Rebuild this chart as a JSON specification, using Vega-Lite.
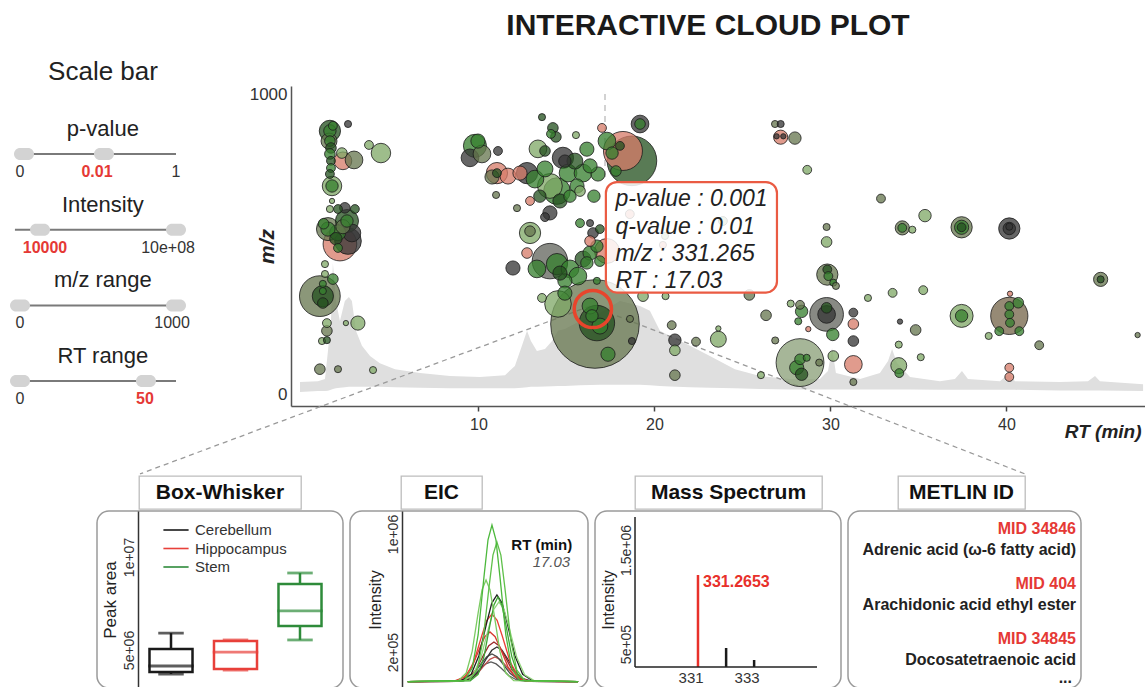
{
"$schema": "https://vega.github.io/schema/vega-lite/v6.json",
"background": "white",
"padding": {"top": 10, "left": 0, "right": 0, "bottom": 0},
"config": {
  "font": "Liberation Sans",
  "view": {"stroke": null},
  "axis": {"grid": false, "ticks": false, "labelColor": "#333", "titleColor": "#222", "domainColor": "#444", "domainWidth": 1.5, "labelFontSize": 14, "titleFontSize": 16, "titleFontWeight": "normal"}
},
"datasets": {
  "sliders": [
    {"row": 0, "name": "p-value", "start": -0.013, "end": 1.0},
    {"row": 1, "name": "Intensity", "start": -0.013, "end": 1.044},
    {"row": 2, "name": "m/z range", "start": -0.025, "end": 1.044},
    {"row": 3, "name": "RT range", "start": -0.025, "end": 1.0}
  ],
  "thumbs": [
    {"row": 0, "pos": 0.044}, {"row": 0, "pos": 0.547},
    {"row": 1, "pos": 0.145}, {"row": 1, "pos": 1.0},
    {"row": 2, "pos": 0.019}, {"row": 2, "pos": 1.0},
    {"row": 3, "pos": 0.019}, {"row": 3, "pos": 0.811}
  ],
  "slabels": [
    {"row": 0, "pos": 0.019, "label": "0", "sel": "no"},
    {"row": 0, "pos": 0.503, "label": "0.01", "sel": "yes"},
    {"row": 0, "pos": 1.0, "label": "1", "sel": "no"},
    {"row": 1, "pos": 0.176, "label": "10000", "sel": "yes"},
    {"row": 1, "pos": 0.95, "label": "10e+08", "sel": "no"},
    {"row": 2, "pos": 0.019, "label": "0", "sel": "no"},
    {"row": 2, "pos": 0.975, "label": "1000", "sel": "no"},
    {"row": 3, "pos": 0.019, "label": "0", "sel": "no"},
    {"row": 3, "pos": 0.805, "label": "50", "sel": "yes"}
  ],
  "tic": [
    {"rt": -0.14, "up": 41, "lo": 8}, {"rt": 0.88, "up": 44, "lo": 11}, {"rt": 1.28, "up": 51, "lo": 11}, {"rt": 1.45, "up": 145, "lo": 12},
    {"rt": 1.62, "up": 245, "lo": 15}, {"rt": 1.73, "up": 439, "lo": 18}, {"rt": 1.9, "up": 312, "lo": 20}, {"rt": 2.13, "up": 245, "lo": 22},
    {"rt": 2.41, "up": 312, "lo": 24}, {"rt": 2.64, "up": 325, "lo": 25}, {"rt": 2.81, "up": 312, "lo": 25}, {"rt": 3.04, "up": 212, "lo": 25},
    {"rt": 3.38, "up": 162, "lo": 25}, {"rt": 3.84, "up": 128, "lo": 25}, {"rt": 4.4, "up": 104, "lo": 25}, {"rt": 5.26, "up": 84, "lo": 24},
    {"rt": 6.68, "up": 71, "lo": 22}, {"rt": 8.38, "up": 61, "lo": 20}, {"rt": 10.09, "up": 58, "lo": 20}, {"rt": 11.51, "up": 64, "lo": 20},
    {"rt": 12.07, "up": 95, "lo": 20}, {"rt": 12.47, "up": 162, "lo": 22}, {"rt": 12.76, "up": 212, "lo": 24}, {"rt": 12.98, "up": 178, "lo": 25},
    {"rt": 13.32, "up": 145, "lo": 25}, {"rt": 13.78, "up": 151, "lo": 26}, {"rt": 14.18, "up": 178, "lo": 27}, {"rt": 14.52, "up": 212, "lo": 28},
    {"rt": 14.91, "up": 218, "lo": 28}, {"rt": 15.77, "up": 245, "lo": 30}, {"rt": 16.9, "up": 272, "lo": 32}, {"rt": 18.04, "up": 312, "lo": 32},
    {"rt": 19.18, "up": 295, "lo": 32}, {"rt": 19.74, "up": 279, "lo": 30}, {"rt": 20.31, "up": 212, "lo": 28}, {"rt": 20.88, "up": 195, "lo": 26},
    {"rt": 22.02, "up": 162, "lo": 24}, {"rt": 23.15, "up": 128, "lo": 22}, {"rt": 24.57, "up": 84, "lo": 20}, {"rt": 26.0, "up": 61, "lo": 18},
    {"rt": 27.7, "up": 51, "lo": 16}, {"rt": 29.4, "up": 51, "lo": 16}, {"rt": 29.86, "up": 78, "lo": 16}, {"rt": 30.09, "up": 155, "lo": 16},
    {"rt": 30.31, "up": 71, "lo": 16}, {"rt": 31.68, "up": 51, "lo": 16}, {"rt": 32.81, "up": 71, "lo": 16}, {"rt": 33.27, "up": 111, "lo": 16},
    {"rt": 33.5, "up": 151, "lo": 16}, {"rt": 33.78, "up": 105, "lo": 16}, {"rt": 34.52, "up": 58, "lo": 16}, {"rt": 36.22, "up": 44, "lo": 15},
    {"rt": 37.07, "up": 51, "lo": 15}, {"rt": 37.47, "up": 78, "lo": 15}, {"rt": 37.81, "up": 51, "lo": 15}, {"rt": 39.63, "up": 44, "lo": 15},
    {"rt": 39.97, "up": 61, "lo": 15}, {"rt": 40.2, "up": 68, "lo": 15}, {"rt": 40.48, "up": 44, "lo": 15}, {"rt": 43.04, "up": 41, "lo": 13},
    {"rt": 44.63, "up": 44, "lo": 13}, {"rt": 45.03, "up": 61, "lo": 13}, {"rt": 45.31, "up": 44, "lo": 13}, {"rt": 47.76, "up": 34, "lo": 11}
  ],
  "persp": [
    {"rt": 16.34, "mz": 295, "rt2": -9.23, "mz2": -266},
    {"rt": 17.87, "mz": 262, "rt2": 41.05, "mz2": -266}
  ],
  "bubbles": [
    {"rt":1.56,"mz":880,"s":144,"c":"dg"},{"rt":1.56,"mz":880,"s":49,"c":"g"},{"rt":1.73,"mz":897,"s":25,"c":"g"},{"rt":2.59,"mz":903,"s":16,"c":"dk"},
    {"rt":1.56,"mz":846,"s":36,"c":"g"},{"rt":1.62,"mz":823,"s":36,"c":"dg"},{"rt":1.56,"mz":803,"s":36,"c":"g"},{"rt":1.62,"mz":780,"s":25,"c":"dg"},
    {"rt":1.62,"mz":756,"s":25,"c":"g"},{"rt":1.56,"mz":736,"s":25,"c":"dg"},{"rt":1.51,"mz":846,"s":81,"c":"ol"},{"rt":2.24,"mz":806,"s":36,"c":"lg"},
    {"rt":2.3,"mz":780,"s":100,"c":"r"},{"rt":2.93,"mz":783,"s":100,"c":"ol"},{"rt":3.78,"mz":833,"s":25,"c":"lg"},{"rt":4.46,"mz":806,"s":121,"c":"lg"},
    {"rt":1.68,"mz":696,"s":121,"c":"lg"},{"rt":1.68,"mz":696,"s":49,"c":"g"},{"rt":1.68,"mz":646,"s":9,"c":"lg"},{"rt":1.56,"mz":619,"s":16,"c":"lg"},
    {"rt":1.45,"mz":552,"s":169,"c":"ol"},{"rt":1.45,"mz":552,"s":64,"c":"g"},{"rt":2.53,"mz":579,"s":169,"c":"dg"},{"rt":2.53,"mz":579,"s":49,"c":"g"},
    {"rt":2.13,"mz":502,"s":361,"c":"r"},{"rt":2.59,"mz":512,"s":225,"c":"dk"},{"rt":2.81,"mz":539,"s":100,"c":"dk"},{"rt":2.02,"mz":489,"s":25,"c":"g"},
    {"rt":2.41,"mz":623,"s":36,"c":"dk"},{"rt":2.02,"mz":619,"s":25,"c":"dg"},{"rt":2.98,"mz":619,"s":25,"c":"dg"},{"rt":1.28,"mz":435,"s":16,"c":"lg"},
    {"rt":1.28,"mz":402,"s":16,"c":"lg"},{"rt":1.73,"mz":385,"s":36,"c":"g"},{"rt":0.99,"mz":328,"s":529,"c":"ol"},{"rt":1.16,"mz":328,"s":144,"c":"dg"},
    {"rt":1.16,"mz":369,"s":16,"c":"g"},{"rt":1.16,"mz":345,"s":16,"c":"g"},{"rt":1.16,"mz":305,"s":36,"c":"dg"},{"rt":1.39,"mz":238,"s":25,"c":"lg"},
    {"rt":1.39,"mz":212,"s":36,"c":"ol"},{"rt":1.11,"mz":178,"s":16,"c":"lg"},{"rt":1.39,"mz":181,"s":16,"c":"dg"},{"rt":2.47,"mz":238,"s":9,"c":"lg"},
    {"rt":3.15,"mz":238,"s":64,"c":"lg"},{"rt":0.99,"mz":84,"s":36,"c":"ol"},{"rt":2.02,"mz":84,"s":16,"c":"ol"},{"rt":4.01,"mz":81,"s":16,"c":"lg"},
    {"rt":2.0,"mz":540,"s":81,"c":"g"},{"rt":2.3,"mz":560,"s":64,"c":"ol"},{"rt":1.9,"mz":520,"s":49,"c":"dg"},{"rt":1.2,"mz":570,"s":36,"c":"g"},
    {"rt":9.8,"mz":830,"s":169,"c":"g"},{"rt":9.52,"mz":790,"s":100,"c":"dk"},{"rt":10.2,"mz":803,"s":100,"c":"ol"},{"rt":9.97,"mz":846,"s":64,"c":"g"},
    {"rt":11.11,"mz":813,"s":25,"c":"dk"},{"rt":11.05,"mz":739,"s":144,"c":"r"},{"rt":11.05,"mz":739,"s":25,"c":"dg"},{"rt":10.77,"mz":726,"s":64,"c":"ol"},
    {"rt":11.68,"mz":729,"s":81,"c":"r"},{"rt":11.0,"mz":666,"s":16,"c":"ol"},{"rt":12.19,"mz":622,"s":16,"c":"ol"},{"rt":13.61,"mz":926,"s":16,"c":"dg"},
    {"rt":14.23,"mz":890,"s":36,"c":"dg"},{"rt":14.4,"mz":860,"s":36,"c":"dg"},{"rt":14.12,"mz":870,"s":25,"c":"g"},{"rt":15.54,"mz":866,"s":16,"c":"lg"},
    {"rt":13.38,"mz":820,"s":100,"c":"lg"},{"rt":14.8,"mz":790,"s":144,"c":"dk"},{"rt":14.91,"mz":779,"s":49,"c":"dk"},{"rt":12.76,"mz":739,"s":144,"c":"dk"},
    {"rt":12.36,"mz":739,"s":64,"c":"r"},{"rt":13.21,"mz":719,"s":100,"c":"g"},{"rt":13.78,"mz":753,"s":81,"c":"g"},{"rt":14.46,"mz":679,"s":225,"c":"g"},
    {"rt":14.06,"mz":696,"s":196,"c":"lg"},{"rt":15.09,"mz":739,"s":100,"c":"g"},{"rt":15.94,"mz":739,"s":100,"c":"g"},{"rt":15.6,"mz":696,"s":64,"c":"g"},
    {"rt":16.16,"mz":819,"s":64,"c":"g"},{"rt":16.79,"mz":736,"s":64,"c":"g"},{"rt":16.34,"mz":763,"s":64,"c":"g"},{"rt":14.06,"mz":606,"s":64,"c":"dk"},
    {"rt":13.78,"mz":592,"s":25,"c":"dk"},{"rt":14.63,"mz":646,"s":64,"c":"dg"},{"rt":13.49,"mz":662,"s":49,"c":"dg"},{"rt":15.2,"mz":662,"s":49,"c":"g"},
    {"rt":15.48,"mz":779,"s":81,"c":"dg"},{"rt":15.77,"mz":679,"s":36,"c":"lg"},{"rt":16.56,"mz":662,"s":49,"c":"g"},{"rt":13.78,"mz":813,"s":36,"c":"dg"},
    {"rt":12.93,"mz":646,"s":25,"c":"r"},{"rt":18.21,"mz":813,"s":484,"c":"r"},{"rt":18.72,"mz":780,"s":784,"c":"dg"},{"rt":19.18,"mz":903,"s":100,"c":"dk"},
    {"rt":19.18,"mz":903,"s":36,"c":"g"},{"rt":17.02,"mz":890,"s":25,"c":"r"},{"rt":17.3,"mz":846,"s":100,"c":"g"},{"rt":17.59,"mz":806,"s":49,"c":"g"},
    {"rt":17.81,"mz":746,"s":36,"c":"g"},{"rt":18.04,"mz":830,"s":25,"c":"dg"},{"rt":12.93,"mz":539,"s":144,"c":"lg"},{"rt":12.93,"mz":545,"s":36,"c":"ol"},
    {"rt":11.96,"mz":422,"s":64,"c":"dk"},{"rt":14.06,"mz":445,"s":400,"c":"gy"},{"rt":13.32,"mz":419,"s":100,"c":"g"},{"rt":14.46,"mz":435,"s":144,"c":"g"},
    {"rt":15.2,"mz":419,"s":100,"c":"g"},{"rt":15.65,"mz":395,"s":100,"c":"g"},{"rt":16.34,"mz":472,"s":64,"c":"g"},{"rt":16.51,"mz":539,"s":36,"c":"dk"},
    {"rt":16.34,"mz":512,"s":36,"c":"r"},{"rt":16.73,"mz":495,"s":49,"c":"g"},{"rt":16.16,"mz":439,"s":49,"c":"g"},{"rt":16.34,"mz":572,"s":16,"c":"dk"},
    {"rt":16.73,"mz":379,"s":16,"c":"g"},{"rt":12.76,"mz":472,"s":36,"c":"r"},{"rt":14.91,"mz":379,"s":64,"c":"g"},{"rt":16.9,"mz":445,"s":36,"c":"g"},
    {"rt":16.9,"mz":552,"s":25,"c":"dg"},{"rt":15.94,"mz":452,"s":81,"c":"dg"},{"rt":15.77,"mz":572,"s":25,"c":"g"},{"rt":14.63,"mz":405,"s":64,"c":"dg"},
    {"rt":16.62,"mz":235,"s":2500,"c":"ol"},{"rt":14.52,"mz":302,"s":225,"c":"lg"},{"rt":16.73,"mz":238,"s":400,"c":"dg"},{"rt":16.34,"mz":295,"s":81,"c":"g"},
    {"rt":16.45,"mz":262,"s":49,"c":"g"},{"rt":16.9,"mz":228,"s":81,"c":"g"},{"rt":17.36,"mz":134,"s":64,"c":"g"},{"rt":18.72,"mz":178,"s":16,"c":"dk"},
    {"rt":18.61,"mz":252,"s":16,"c":"ol"},{"rt":13.61,"mz":322,"s":25,"c":"lg"},{"rt":19.35,"mz":328,"s":36,"c":"lg"},{"rt":14.91,"mz":338,"s":64,"c":"g"},
    {"rt":23.89,"mz":579,"s":25,"c":"lg"},{"rt":20.6,"mz":529,"s":16,"c":"lg"},{"rt":20.48,"mz":499,"s":16,"c":"r"},{"rt":17.3,"mz":479,"s":196,"c":"r"},
    {"rt":18.6,"mz":602,"s":25,"c":"r"},
    {"rt":26.85,"mz":903,"s":16,"c":"ol"},{"rt":27.17,"mz":903,"s":16,"c":"dk"},{"rt":27.17,"mz":859,"s":64,"c":"r"},{"rt":26.94,"mz":862,"s":9,"c":"dk"},
    {"rt":27.32,"mz":862,"s":9,"c":"dk"},{"rt":27.98,"mz":856,"s":49,"c":"ol"},{"rt":28.68,"mz":750,"s":25,"c":"lg"},{"rt":32.87,"mz":654,"s":25,"c":"ol"},
    {"rt":35.37,"mz":597,"s":49,"c":"lg"},{"rt":34.08,"mz":556,"s":64,"c":"ol"},{"rt":34.08,"mz":556,"s":25,"c":"g"},{"rt":34.65,"mz":550,"s":16,"c":"lg"},
    {"rt":37.45,"mz":558,"s":144,"c":"ol"},{"rt":37.45,"mz":558,"s":64,"c":"g"},{"rt":37.45,"mz":558,"s":25,"c":"dg"},{"rt":40.16,"mz":554,"s":144,"c":"dk"},
    {"rt":40.16,"mz":554,"s":49,"c":"dk"},{"rt":40.16,"mz":560,"s":16,"c":"dk"},{"rt":29.78,"mz":559,"s":16,"c":"ol"},{"rt":29.78,"mz":509,"s":36,"c":"lg"},
    {"rt":29.82,"mz":400,"s":144,"c":"ol"},{"rt":29.82,"mz":417,"s":25,"c":"dg"},{"rt":29.88,"mz":395,"s":25,"c":"g"},{"rt":30.16,"mz":373,"s":16,"c":"g"},
    {"rt":30.31,"mz":362,"s":16,"c":"ol"},{"rt":45.35,"mz":384,"s":64,"c":"ol"},{"rt":45.35,"mz":384,"s":16,"c":"dg"},{"rt":25.39,"mz":332,"s":36,"c":"ol"},
    {"rt":20.63,"mz":328,"s":16,"c":"lg"},{"rt":32.13,"mz":322,"s":16,"c":"lg"},{"rt":33.53,"mz":339,"s":25,"c":"lg"},{"rt":35.27,"mz":348,"s":25,"c":"lg"},
    {"rt":26.34,"mz":264,"s":36,"c":"ol"},{"rt":27.74,"mz":303,"s":16,"c":"lg"},{"rt":28.27,"mz":299,"s":25,"c":"ol"},{"rt":28.36,"mz":277,"s":49,"c":"g"},
    {"rt":28.17,"mz":244,"s":16,"c":"g"},{"rt":29.78,"mz":267,"s":361,"c":"gy"},{"rt":29.78,"mz":267,"s":100,"c":"dk"},{"rt":29.78,"mz":289,"s":36,"c":"dg"},
    {"rt":30.13,"mz":200,"s":49,"c":"g"},{"rt":28.74,"mz":218,"s":9,"c":"r"},{"rt":31.3,"mz":273,"s":25,"c":"dk"},{"rt":31.3,"mz":235,"s":36,"c":"r"},
    {"rt":31.3,"mz":178,"s":36,"c":"dk"},{"rt":31.3,"mz":100,"s":100,"c":"r"},{"rt":31.3,"mz":41,"s":16,"c":"ol"},{"rt":30.16,"mz":128,"s":36,"c":"lg"},
    {"rt":28.27,"mz":106,"s":729,"c":"lo"},{"rt":28.27,"mz":117,"s":36,"c":"g"},{"rt":28.08,"mz":89,"s":64,"c":"g"},{"rt":28.36,"mz":67,"s":49,"c":"dg"},
    {"rt":28.65,"mz":122,"s":16,"c":"g"},{"rt":29.36,"mz":106,"s":16,"c":"ol"},{"rt":26.86,"mz":180,"s":16,"c":"ol"},{"rt":26.05,"mz":64,"s":16,"c":"lg"},
    {"rt":23.63,"mz":184,"s":81,"c":"lg"},{"rt":23.63,"mz":220,"s":9,"c":"lg"},{"rt":22.36,"mz":176,"s":25,"c":"ol"},{"rt":20.98,"mz":231,"s":25,"c":"ol"},
    {"rt":21.16,"mz":181,"s":49,"c":"dk"},{"rt":21.16,"mz":147,"s":36,"c":"lg"},{"rt":21.16,"mz":64,"s":36,"c":"ol"},{"rt":33.95,"mz":243,"s":9,"c":"dk"},
    {"rt":34.84,"mz":215,"s":36,"c":"ol"},{"rt":33.88,"mz":166,"s":16,"c":"lg"},{"rt":35.13,"mz":124,"s":16,"c":"lg"},{"rt":33.88,"mz":96,"s":81,"c":"lg"},
    {"rt":33.91,"mz":71,"s":25,"c":"g"},{"rt":37.45,"mz":262,"s":169,"c":"lg"},{"rt":37.45,"mz":262,"s":49,"c":"g"},{"rt":40.16,"mz":262,"s":441,"c":"br"},
    {"rt":40.16,"mz":295,"s":25,"c":"g"},{"rt":40.16,"mz":267,"s":25,"c":"g"},{"rt":40.2,"mz":239,"s":25,"c":"g"},{"rt":40.67,"mz":306,"s":36,"c":"g"},
    {"rt":39.59,"mz":211,"s":25,"c":"g"},{"rt":40.73,"mz":211,"s":25,"c":"g"},{"rt":40.2,"mz":336,"s":9,"c":"r"},{"rt":38.99,"mz":195,"s":16,"c":"lg"},
    {"rt":41.86,"mz":164,"s":25,"c":"ol"},{"rt":40.16,"mz":89,"s":25,"c":"r"},{"rt":40.16,"mz":58,"s":25,"c":"r"},{"rt":47.45,"mz":198,"s":9,"c":"ol"}
  ],
  "sel": [{"rt": 16.5, "mz": 285}],
  "vline": [{"rt": 17.19, "mz": 1003, "mz2": 709}],
  "tipbox": [{"rt": 17.24, "rt2": 26.96, "mz": 709, "mz2": 340}],
  "tip": [
    {"rt": 17.78, "mz": 652, "line": "p-value : 0.001"},
    {"rt": 17.78, "mz": 558, "line": "q-value : 0.01"},
    {"rt": 17.78, "mz": 468, "line": "m/z : 331.265"},
    {"rt": 17.78, "mz": 378, "line": "RT : 17.03"}
  ],
  "box": [
    {"group": "Cerebellum", "lo": 3710000, "q1": 3820000, "med": 4140000, "q3": 5050000, "hi": 5910000},
    {"group": "Hippocampus", "lo": 3920000, "q1": 3980000, "med": 4890000, "q3": 5480000, "hi": 5540000},
    {"group": "Stem", "lo": 5540000, "q1": 6290000, "med": 7100000, "q3": 8550000, "hi": 9140000}
  ],
  "eic": [
    {"c":"K4","t":16.59,"i":0},{"c":"K4","t":16.828,"i":1000},{"c":"K4","t":16.88,"i":11000},{"c":"K4","t":16.919,"i":40000},{"c":"K4","t":16.958,"i":90000},{"c":"K4","t":16.984,"i":120000},{"c":"K4","t":17.01,"i":133000},{"c":"K4","t":17.036,"i":120000},{"c":"K4","t":17.062,"i":90000},{"c":"K4","t":17.101,"i":40000},{"c":"K4","t":17.14,"i":11000},{"c":"K4","t":17.192,"i":1000},{"c":"K4","t":17.45,"i":0},
    {"c":"R4","t":16.59,"i":0},{"c":"R4","t":16.848,"i":1000},{"c":"R4","t":16.9,"i":14000},{"c":"R4","t":16.939,"i":50000},{"c":"R4","t":16.978,"i":113000},{"c":"R4","t":17.004,"i":151000},{"c":"R4","t":17.03,"i":167000},{"c":"R4","t":17.056,"i":151000},{"c":"R4","t":17.082,"i":113000},{"c":"R4","t":17.121,"i":50000},{"c":"R4","t":17.16,"i":14000},{"c":"R4","t":17.212,"i":1000},{"c":"R4","t":17.45,"i":0},
    {"c":"K3","t":16.59,"i":0},{"c":"K3","t":16.833,"i":1000},{"c":"K3","t":16.885,"i":16000},{"c":"K3","t":16.924,"i":56000},{"c":"K3","t":16.963,"i":126000},{"c":"K3","t":16.989,"i":169000},{"c":"K3","t":17.015,"i":187000},{"c":"K3","t":17.041,"i":169000},{"c":"K3","t":17.067,"i":126000},{"c":"K3","t":17.106,"i":56000},{"c":"K3","t":17.145,"i":16000},{"c":"K3","t":17.197,"i":1000},{"c":"K3","t":17.45,"i":0},
    {"c":"K2","t":16.59,"i":0},{"c":"K2","t":16.858,"i":2000},{"c":"K2","t":16.91,"i":20000},{"c":"K2","t":16.949,"i":70000},{"c":"K2","t":16.988,"i":158000},{"c":"K2","t":17.014,"i":212000},{"c":"K2","t":17.04,"i":234000},{"c":"K2","t":17.066,"i":212000},{"c":"K2","t":17.092,"i":158000},{"c":"K2","t":17.131,"i":70000},{"c":"K2","t":17.17,"i":20000},{"c":"K2","t":17.222,"i":2000},{"c":"K2","t":17.45,"i":0},
    {"c":"R3","t":16.59,"i":0},{"c":"R3","t":16.843,"i":2000},{"c":"R3","t":16.895,"i":23000},{"c":"R3","t":16.934,"i":80000},{"c":"R3","t":16.973,"i":181000},{"c":"R3","t":16.999,"i":243000},{"c":"R3","t":17.025,"i":268000},{"c":"R3","t":17.051,"i":243000},{"c":"R3","t":17.077,"i":181000},{"c":"R3","t":17.116,"i":80000},{"c":"R3","t":17.155,"i":23000},{"c":"R3","t":17.207,"i":2000},{"c":"R3","t":17.45,"i":0},
    {"c":"R2","t":16.59,"i":0},{"c":"R2","t":16.823,"i":3000},{"c":"R2","t":16.875,"i":29000},{"c":"R2","t":16.914,"i":100000},{"c":"R2","t":16.953,"i":226000},{"c":"R2","t":16.979,"i":304000},{"c":"R2","t":17.005,"i":336000},{"c":"R2","t":17.031,"i":304000},{"c":"R2","t":17.057,"i":226000},{"c":"R2","t":17.096,"i":100000},{"c":"R2","t":17.135,"i":29000},{"c":"R2","t":17.187,"i":3000},{"c":"R2","t":17.45,"i":0},
    {"c":"R1","t":16.59,"i":0},{"c":"R1","t":16.833,"i":4000},{"c":"R1","t":16.885,"i":39000},{"c":"R1","t":16.924,"i":136000},{"c":"R1","t":16.963,"i":309000},{"c":"R1","t":16.989,"i":415000},{"c":"R1","t":17.015,"i":458000},{"c":"R1","t":17.041,"i":415000},{"c":"R1","t":17.067,"i":309000},{"c":"R1","t":17.106,"i":136000},{"c":"R1","t":17.145,"i":39000},{"c":"R1","t":17.197,"i":4000},{"c":"R1","t":17.45,"i":0},
    {"c":"K1","t":16.59,"i":0},{"c":"K1","t":16.858,"i":5000},{"c":"K1","t":16.91,"i":50000},{"c":"K1","t":16.949,"i":175000},{"c":"K1","t":16.988,"i":396000},{"c":"K1","t":17.014,"i":532000},{"c":"K1","t":17.04,"i":587000},{"c":"K1","t":17.066,"i":532000},{"c":"K1","t":17.092,"i":396000},{"c":"K1","t":17.131,"i":175000},{"c":"K1","t":17.17,"i":50000},{"c":"K1","t":17.222,"i":5000},{"c":"K1","t":17.45,"i":0},
    {"c":"G5","t":16.59,"i":0},{"c":"G5","t":16.868,"i":4000},{"c":"G5","t":16.92,"i":46000},{"c":"G5","t":16.959,"i":161000},{"c":"G5","t":16.998,"i":364000},{"c":"G5","t":17.024,"i":489000},{"c":"G5","t":17.05,"i":540000},{"c":"G5","t":17.076,"i":489000},{"c":"G5","t":17.102,"i":364000},{"c":"G5","t":17.141,"i":161000},{"c":"G5","t":17.18,"i":46000},{"c":"G5","t":17.232,"i":4000},{"c":"G5","t":17.45,"i":0},
    {"c":"G4","t":16.59,"i":0},{"c":"G4","t":16.905,"i":5000},{"c":"G4","t":16.945,"i":49000},{"c":"G4","t":16.975,"i":171000},{"c":"G4","t":17.005,"i":386000},{"c":"G4","t":17.025,"i":519000},{"c":"G4","t":17.045,"i":573000},{"c":"G4","t":17.065,"i":519000},{"c":"G4","t":17.085,"i":386000},{"c":"G4","t":17.115,"i":171000},{"c":"G4","t":17.145,"i":49000},{"c":"G4","t":17.185,"i":5000},{"c":"G4","t":17.45,"i":0},
    {"c":"G3","t":16.59,"i":0},{"c":"G3","t":16.845,"i":6000},{"c":"G3","t":16.885,"i":58000},{"c":"G3","t":16.915,"i":205000},{"c":"G3","t":16.945,"i":464000},{"c":"G3","t":16.965,"i":623000},{"c":"G3","t":16.985,"i":688000},{"c":"G3","t":17.005,"i":623000},{"c":"G3","t":17.025,"i":464000},{"c":"G3","t":17.055,"i":205000},{"c":"G3","t":17.085,"i":58000},{"c":"G3","t":17.125,"i":6000},{"c":"G3","t":17.45,"i":0},
    {"c":"G2","t":16.59,"i":0},{"c":"G2","t":16.9,"i":8000},{"c":"G2","t":16.94,"i":80000},{"c":"G2","t":16.97,"i":282000},{"c":"G2","t":17.0,"i":638000},{"c":"G2","t":17.02,"i":857000},{"c":"G2","t":17.04,"i":946000},{"c":"G2","t":17.06,"i":857000},{"c":"G2","t":17.08,"i":638000},{"c":"G2","t":17.11,"i":282000},{"c":"G2","t":17.14,"i":80000},{"c":"G2","t":17.18,"i":8000},{"c":"G2","t":17.45,"i":0},
    {"c":"G1","t":16.59,"i":0},{"c":"G1","t":16.875,"i":8000},{"c":"G1","t":16.915,"i":90000},{"c":"G1","t":16.945,"i":316000},{"c":"G1","t":16.975,"i":715000},{"c":"G1","t":16.995,"i":961000},{"c":"G1","t":17.015,"i":1061000},{"c":"G1","t":17.035,"i":961000},{"c":"G1","t":17.055,"i":715000},{"c":"G1","t":17.085,"i":316000},{"c":"G1","t":17.115,"i":90000},{"c":"G1","t":17.155,"i":8000},{"c":"G1","t":17.45,"i":0}
  ],
  "eicnote": [
    {"t": 17.42, "i": 925500, "a": "RT (min)", "kind": "head"},
    {"t": 17.41, "i": 810300, "a": "17.03", "kind": "val"}
  ],
  "ms": [
    {"mz": 331.2653, "int": 1234000, "base": 255350, "kind": "main", "label": "331.2653"},
    {"mz": 332.27, "int": 457500, "base": 255350, "kind": "iso", "label": ""},
    {"mz": 333.27, "int": 330000, "base": 255350, "kind": "iso", "label": ""}
  ],
  "msaxis": [
    {"mz": 329.016, "mz2": 329.016, "int": 255350, "int2": 1851000},
    {"mz": 329.016, "mz2": 335.516, "int": 255350, "int2": 255350}
  ],
  "metlin": [
    {"rank": 1, "mid": "MID 34846", "name": "Adrenic acid (ω-6 fatty acid)"},
    {"rank": 2, "mid": "MID 404", "name": "Arachidonic acid ethyl ester"},
    {"rank": 3, "mid": "MID 34845", "name": "Docosatetraenoic acid"}
  ]
},
"resolve": {"scale": {"color": "independent", "fill": "independent", "stroke": "independent", "size": "independent"}},
"spacing": 0,
"vconcat": [
  {
    "hconcat": [
      {
        "width": 240, "height": 320,
        "title": {"text": "Scale bar", "fontSize": 26, "fontWeight": "normal", "color": "#222", "anchor": "middle", "frame": "group", "dx": -17, "offset": -20, "baseline": "alphabetic"},
        "layer": [
          {
            "data": {"name": "sliders"},
            "mark": {"type": "rule", "color": "#7a7a7a", "strokeWidth": 2, "yOffset": 25},
            "encoding": {
              "x": {"field": "start", "type": "quantitative", "scale": {"domain": [-0.1069, 1.4025], "nice": false, "zero": false}, "axis": null},
              "x2": {"field": "end"},
              "y": {"field": "row", "type": "quantitative", "scale": {"domain": [-0.568, 3.659], "reverse": true, "nice": false, "zero": false}, "axis": null}
            }
          },
          {
            "data": {"name": "sliders"},
            "mark": {"type": "text", "fontSize": 22, "color": "#222", "baseline": "middle"},
            "encoding": {
              "x": {"datum": 0.54, "type": "quantitative", "axis": null},
              "y": {"field": "row", "type": "quantitative", "axis": null},
              "text": {"field": "name"}
            }
          },
          {
            "data": {"name": "thumbs"},
            "mark": {"type": "point", "shape": "M-0.4,-0.6L0.4,-0.6A0.6,0.6,0,0,1,0.4,0.6L-0.4,0.6A0.6,0.6,0,0,1,-0.4,-0.6Z", "size": 400, "filled": true, "color": "#d3d3d3", "opacity": 1, "yOffset": 25},
            "encoding": {
              "x": {"field": "pos", "type": "quantitative", "axis": null},
              "y": {"field": "row", "type": "quantitative", "axis": null}
            }
          },
          {
            "data": {"name": "slabels"},
            "transform": [{"filter": "datum.sel == 'no'"}],
            "mark": {"type": "text", "fontSize": 16, "color": "#333", "dy": 43, "baseline": "middle"},
            "encoding": {
              "x": {"field": "pos", "type": "quantitative", "axis": null},
              "y": {"field": "row", "type": "quantitative", "axis": null},
              "text": {"field": "label"}
            }
          },
          {
            "data": {"name": "slabels"},
            "transform": [{"filter": "datum.sel == 'yes'"}],
            "mark": {"type": "text", "fontSize": 16, "fontWeight": "bold", "color": "#e53935", "dy": 43, "baseline": "middle"},
            "encoding": {
              "x": {"field": "pos", "type": "quantitative", "axis": null},
              "y": {"field": "row", "type": "quantitative", "axis": null},
              "text": {"field": "label"}
            }
          }
        ]
      },
      {
        "width": 854, "height": 320,
        "title": {"text": "INTERACTIVE CLOUD PLOT", "fontSize": 30, "fontWeight": "bold", "color": "#1a1a1a", "anchor": "middle", "frame": "group", "dx": -10, "offset": 21, "baseline": "alphabetic"},
        "layer": [
          {
            "data": {"name": "tic"},
            "mark": {"type": "area", "color": "#dfdfdf", "opacity": 1},
            "encoding": {
              "x": {"field": "rt", "type": "quantitative", "scale": {"domain": [-0.65, 47.87], "nice": false, "zero": false},
                    "axis": {"values": [10, 20, 30, 40], "ticks": true, "tickSize": 5, "tickColor": "#444", "tickWidth": 1.5, "labelFontSize": 16, "labelPadding": 5, "labelFlush": false, "domainColor": "#555", "domainWidth": 1.5,
                             "title": "RT (min)", "titleFontSize": 19, "titleFontWeight": "bold", "titleFontStyle": "italic", "titleAlign": "right", "titleX": 850, "titleY": 31, "titleBaseline": "alphabetic"}},
              "y": {"field": "up", "type": "quantitative", "scale": {"domain": [-39, 1030], "nice": false, "zero": false},
                    "axis": {"values": [0, 1000], "format": "d", "labelFontSize": 17, "labelPadding": 4, "domainColor": "#555", "domainWidth": 1.5,
                             "title": "m/z", "titleFontSize": 21, "titleFontWeight": "bold", "titleFontStyle": "italic", "titleX": -24, "titleY": 160, "titleAngle": 270, "titleAlign": "center", "titleBaseline": "middle"}},
              "y2": {"field": "lo"}
            }
          },
          {
            "data": {"name": "persp"},
            "mark": {"type": "rule", "color": "#9a9a9a", "strokeWidth": 1.3, "strokeDash": [5, 4]},
            "encoding": {
              "x": {"field": "rt", "type": "quantitative"},
              "x2": {"field": "rt2"},
              "y": {"field": "mz", "type": "quantitative"},
              "y2": {"field": "mz2"}
            }
          },
          {
            "data": {"name": "vline"},
            "mark": {"type": "rule", "color": "#c4c4c4", "strokeWidth": 1.5, "strokeDash": [6, 5]},
            "encoding": {
              "x": {"field": "rt", "type": "quantitative"},
              "y": {"field": "mz", "type": "quantitative"},
              "y2": {"field": "mz2"}
            }
          },
          {
            "data": {"name": "bubbles"},
            "mark": {"type": "point", "shape": "circle", "filled": true, "fillOpacity": 0.76, "stroke": "#1c1c1c", "strokeWidth": 1, "strokeOpacity": 0.8},
            "encoding": {
              "x": {"field": "rt", "type": "quantitative"},
              "y": {"field": "mz", "type": "quantitative"},
              "size": {"field": "s", "type": "quantitative", "scale": {"type": "linear", "domain": [0, 2500], "range": [0, 7854], "zero": true}, "legend": null},
              "fill": {"field": "c", "type": "nominal", "scale": {"domain": ["g", "dg", "ol", "lg", "dk", "gy", "r", "lo", "br"], "range": ["#367f2e", "#25521f", "#66764f", "#7fa866", "#363636", "#62655d", "#d67c69", "#8a9f78", "#75654a"]}, "legend": null},
              "order": {"field": "s", "type": "quantitative", "sort": "descending"}
            }
          },
          {
            "data": {"name": "sel"},
            "mark": {"type": "point", "shape": "circle", "filled": false, "size": 1385, "stroke": "#e8452c", "strokeWidth": 3.5, "opacity": 1},
            "encoding": {
              "x": {"field": "rt", "type": "quantitative"},
              "y": {"field": "mz", "type": "quantitative"}
            }
          },
          {
            "data": {"name": "tipbox"},
            "mark": {"type": "rect", "fill": "white", "fillOpacity": 0.85, "stroke": "#ea5b43", "strokeWidth": 2.2, "cornerRadius": 11},
            "encoding": {
              "x": {"field": "rt", "type": "quantitative"},
              "x2": {"field": "rt2"},
              "y": {"field": "mz", "type": "quantitative"},
              "y2": {"field": "mz2"}
            }
          },
          {
            "data": {"name": "tip"},
            "mark": {"type": "text", "fontSize": 23, "fontStyle": "italic", "color": "#222", "align": "left", "baseline": "middle"},
            "encoding": {
              "x": {"field": "rt", "type": "quantitative"},
              "y": {"field": "mz", "type": "quantitative"},
              "text": {"field": "line"}
            }
          }
        ]
      }
    ],
    "spacing": 51,
    "bounds": "flush",
    "resolve": {"scale": {"color": "independent", "fill": "independent", "stroke": "independent", "size": "independent"}}
  },
  {
    "hconcat": [
      {"width": 139, "height": 33, "data": {"values": []}, "mark": "rule", "encoding": {}},
      {"width": 162, "height": 33, "view": {"stroke": "#bdbdbd", "strokeWidth": 1.3}, "data": {"values": [{"t": "Box-Whisker"}]}, "mark": {"type": "text", "fontSize": 21, "fontWeight": "bold", "color": "#111"}, "encoding": {"text": {"field": "t"}}},
      {"width": 100, "height": 33, "data": {"values": []}, "mark": "rule", "encoding": {}},
      {"width": 81, "height": 33, "view": {"stroke": "#bdbdbd", "strokeWidth": 1.3}, "data": {"values": [{"t": "EIC"}]}, "mark": {"type": "text", "fontSize": 21, "fontWeight": "bold", "color": "#111"}, "encoding": {"text": {"field": "t"}}},
      {"width": 153, "height": 33, "data": {"values": []}, "mark": "rule", "encoding": {}},
      {"width": 187, "height": 33, "view": {"stroke": "#bdbdbd", "strokeWidth": 1.3}, "data": {"values": [{"t": "Mass Spectrum"}]}, "mark": {"type": "text", "fontSize": 21, "fontWeight": "bold", "color": "#111"}, "encoding": {"text": {"field": "t"}}},
      {"width": 76, "height": 33, "data": {"values": []}, "mark": "rule", "encoding": {}},
      {"width": 127, "height": 33, "view": {"stroke": "#bdbdbd", "strokeWidth": 1.3}, "data": {"values": [{"t": "METLIN ID"}]}, "mark": {"type": "text", "fontSize": 21, "fontWeight": "bold", "color": "#111"}, "encoding": {"text": {"field": "t"}}}
    ],
    "spacing": 0,
    "bounds": "flush"
  },
  {
    "hconcat": [
      {"width": 90, "height": 177, "data": {"values": []}, "mark": "rule", "encoding": {}},
      {
        "width": 246, "height": 177,
        "view": {"stroke": "#9a9a9a", "strokeWidth": 1.5, "cornerRadius": 12},
        "data": {"name": "box"},
        "encoding": {
          "x": {"field": "group", "type": "nominal", "scale": {"type": "band", "domain": ["Cerebellum", "Hippocampus", "Stem"], "paddingInner": 0.333, "paddingOuter": 0.5736, "align": 0.7095}, "axis": null},
          "stroke": {"field": "group", "type": "nominal", "scale": {"domain": ["Cerebellum", "Hippocampus", "Stem"], "range": ["#1a1a1a", "#e8403a", "#2e8b3a"]},
                     "legend": {"orient": "none", "legendX": 69, "legendY": 9, "title": null, "padding": 0, "symbolType": "M-1.4,0L1.4,0", "symbolSize": 324, "symbolStrokeWidth": 1.6, "labelFontSize": 15, "labelColor": "#333", "labelOffset": 9, "rowPadding": 0.5}}
        },
        "layer": [
          {"mark": {"type": "rule", "strokeWidth": 2.5},
           "encoding": {"y": {"field": "q3", "type": "quantitative", "scale": {"domain": [2957000, 12473000], "nice": false, "zero": false},
                              "axis": {"values": [5000000, 10000000], "labelExpr": "datum.value >= 10000000 ? '1e+07' : '5e+06'", "labelAngle": 270, "labelAlign": "center", "labelBaseline": "bottom", "labelPadding": 2, "offset": -41, "title": "Peak area", "titleFontSize": 17, "titlePadding": 3, "domainColor": "#333"}},
                        "y2": {"field": "hi"}}},
          {"mark": {"type": "rule", "strokeWidth": 2.5},
           "encoding": {"y": {"field": "lo", "type": "quantitative"}, "y2": {"field": "q1"}}},
          {"mark": {"type": "bar", "filled": false, "strokeWidth": 2.5},
           "encoding": {"y": {"field": "q1", "type": "quantitative"}, "y2": {"field": "q3"}}},
          {"mark": {"type": "tick", "filled": false, "size": 43, "thickness": 0.3, "strokeWidth": 2.5},
           "encoding": {"y": {"field": "med", "type": "quantitative"}}},
          {"mark": {"type": "tick", "filled": false, "size": 23, "thickness": 0.3, "strokeWidth": 2.5},
           "encoding": {"y": {"field": "hi", "type": "quantitative"}}},
          {"mark": {"type": "tick", "filled": false, "size": 23, "thickness": 0.3, "strokeWidth": 2.5},
           "encoding": {"y": {"field": "lo", "type": "quantitative"}}}
        ]
      },
      {
        "width": 238, "height": 177,
        "view": {"stroke": "#9a9a9a", "strokeWidth": 1.5, "cornerRadius": 12},
        "layer": [
          {
            "data": {"name": "eic"},
            "mark": {"type": "line", "strokeWidth": 1.3},
            "encoding": {
              "x": {"field": "t", "type": "quantitative", "scale": {"domain": [16.298, 17.5], "nice": false, "zero": false}, "axis": null},
              "y": {"field": "i", "type": "quantitative", "scale": {"domain": [-43350, 1155800], "nice": false, "zero": false},
                    "axis": {"values": [200000, 1000000], "labelExpr": "datum.value >= 1000000 ? '1e+06' : '2e+05'", "labelAngle": 270, "labelAlign": "center", "labelBaseline": "bottom", "labelPadding": 2, "offset": -52, "title": "Intensity", "titlePadding": 3, "domainColor": "#333"}},
              "stroke": {"field": "c", "type": "nominal", "scale": {"domain": ["K4", "R4", "K3", "K2", "R3", "R2", "R1", "K1", "G5", "G4", "G3", "G2", "G1"], "range": ["#5a5a5a", "#c0504d", "#4a4a4a", "#333333", "#9b2c2c", "#d63a30", "#ea3f35", "#1e1e1e", "#93d47e", "#3fa535", "#7ccb63", "#5fc04a", "#4cb83c"]}, "legend": null}
            }
          },
          {
            "data": {"name": "eicnote"},
            "transform": [{"filter": "datum.kind == 'head'"}],
            "mark": {"type": "text", "fontSize": 15, "fontWeight": "bold", "color": "#111", "align": "right", "baseline": "middle"},
            "encoding": {"x": {"field": "t", "type": "quantitative", "axis": null}, "y": {"field": "i", "type": "quantitative"}, "text": {"field": "a"}}
          },
          {
            "data": {"name": "eicnote"},
            "transform": [{"filter": "datum.kind == 'val'"}],
            "mark": {"type": "text", "fontSize": 15, "fontStyle": "italic", "color": "#555", "align": "right", "baseline": "middle"},
            "encoding": {"x": {"field": "t", "type": "quantitative", "axis": null}, "y": {"field": "i", "type": "quantitative"}, "text": {"field": "a"}}
          }
        ]
      },
      {
        "width": 246, "height": 177,
        "view": {"stroke": "#9a9a9a", "strokeWidth": 1.5, "cornerRadius": 12},
        "layer": [
          {
            "data": {"name": "ms"},
            "transform": [{"filter": "datum.kind == 'iso'"}],
            "mark": {"type": "rule", "color": "#1a1a1a", "strokeWidth": 2.5},
            "encoding": {
              "x": {"field": "mz", "type": "quantitative", "scale": {"domain": [327.587, 336.373], "nice": false, "zero": false},
                    "axis": {"values": [331, 333], "domain": false, "offset": -21, "labelPadding": 3, "labelFontSize": 15, "title": null}},
              "y": {"field": "int", "type": "quantitative", "scale": {"domain": [31956, 1914900], "nice": false, "zero": false},
                    "axis": {"values": [500000, 1500000], "labelExpr": "datum.value >= 1500000 ? '1.5e+06' : '5e+05'", "labelAngle": 270, "labelAlign": "center", "labelBaseline": "bottom", "labelPadding": 2, "offset": -40, "domain": false, "title": "Intensity", "titlePadding": 3}},
              "y2": {"field": "base"}
            }
          },
          {
            "data": {"name": "ms"},
            "transform": [{"filter": "datum.kind == 'main'"}],
            "mark": {"type": "rule", "color": "#e8302a", "strokeWidth": 2.5},
            "encoding": {
              "x": {"field": "mz", "type": "quantitative"},
              "y": {"field": "int", "type": "quantitative"},
              "y2": {"field": "base"}
            }
          },
          {
            "data": {"name": "msaxis"},
            "mark": {"type": "rule", "color": "#222", "strokeWidth": 1.5},
            "encoding": {"x": {"field": "mz", "type": "quantitative"}, "x2": {"field": "mz2"}, "y": {"field": "int", "type": "quantitative"}, "y2": {"field": "int2"}}
          },
          {
            "data": {"name": "ms"},
            "transform": [{"filter": "datum.kind == 'main'"}],
            "mark": {"type": "text", "fontSize": 16, "fontWeight": "bold", "color": "#e8302a", "align": "left", "baseline": "middle", "dx": 5, "dy": 7},
            "encoding": {
              "x": {"field": "mz", "type": "quantitative"},
              "y": {"field": "int", "type": "quantitative"},
              "text": {"field": "label"}
            }
          }
        ]
      },
      {
        "width": 233, "height": 177,
        "view": {"stroke": "#9a9a9a", "strokeWidth": 1.5, "cornerRadius": 12},
        "data": {"name": "metlin"},
        "encoding": {
          "x": {"value": "width"},
          "y": {"field": "rank", "type": "quantitative", "scale": {"domain": [0.6727, 3.891], "reverse": true, "nice": false, "zero": false}, "axis": null}
        },
        "layer": [
          {"mark": {"type": "text", "align": "right", "baseline": "middle", "dx": -5, "fontSize": 16, "fontWeight": "bold", "color": "#e53935"}, "encoding": {"text": {"field": "mid"}}},
          {"mark": {"type": "text", "align": "right", "baseline": "middle", "dx": -5, "dy": 21, "fontSize": 16, "fontWeight": "bold", "color": "#222"}, "encoding": {"text": {"field": "name"}}},
          {"transform": [{"filter": "datum.rank == 3"}], "mark": {"type": "text", "align": "right", "baseline": "middle", "dx": -9, "dy": 39, "fontSize": 16, "fontWeight": "bold", "color": "#222"}, "encoding": {"text": {"value": "..."}}}
        ]
      }
    ],
    "spacing": 7,
    "bounds": "flush",
    "resolve": {"scale": {"color": "independent", "fill": "independent", "stroke": "independent", "size": "independent"}}
  }
]
}
